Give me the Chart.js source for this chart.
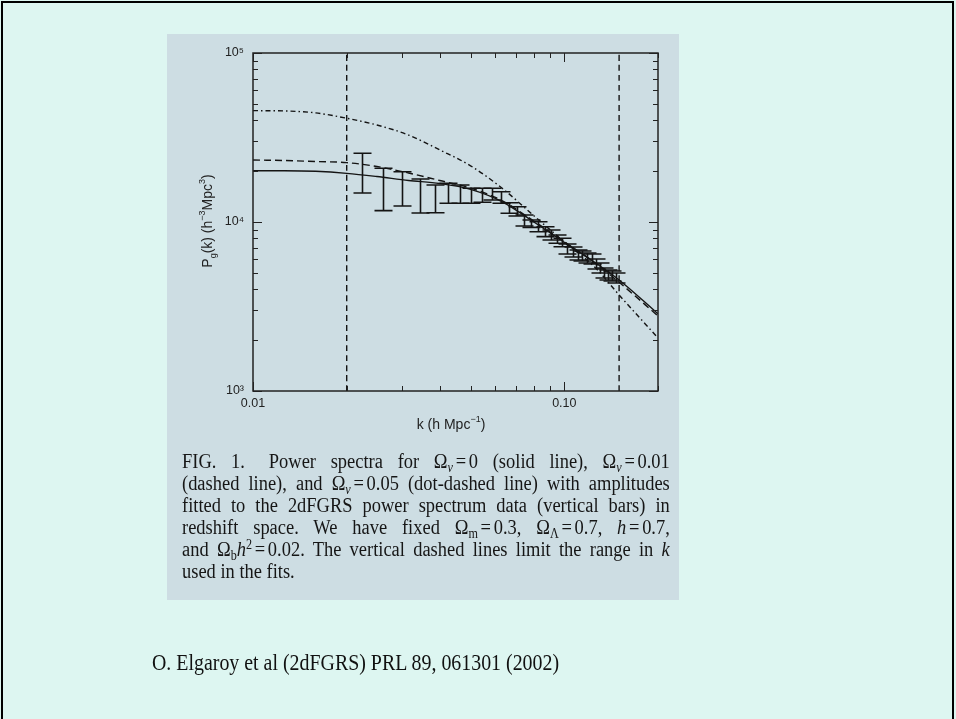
<!DOCTYPE html>
<html><head><meta charset="utf-8">
<script src="https://cdn.jsdelivr.net/npm/chart.js@4.4.0/dist/chart.umd.min.js"></script>
<style>
html,body{margin:0;padding:0;}
body{width:956px;height:719px;background:#ddf6f1;position:relative;overflow:hidden;}
#frame{position:absolute;left:1px;top:1px;width:953px;height:760px;border:2px solid #000;box-sizing:border-box;}
#panel{position:absolute;left:167px;top:34px;width:512px;height:566px;background:#cddde3;}
#chart{position:absolute;left:0;top:0;}
#caption{position:absolute;left:182px;top:450px;width:542px;font-family:"Liberation Serif",serif;font-size:20.5px;line-height:22px;color:#161616;transform-origin:0 0;transform:scaleX(0.9);}
#caption .l{text-align:justify;text-align-last:justify;}
#caption .last{text-align:left;text-align-last:left;}
.s{font-size:0.66em;vertical-align:-0.28em;line-height:0;}
.p{font-size:0.66em;vertical-align:0.5em;line-height:0;}
.e{margin:0 3px;}
#cite{position:absolute;left:152px;top:650px;font-family:"Liberation Serif",serif;font-size:23px;color:#111;transform-origin:0 0;transform:scaleX(0.865);white-space:nowrap;}
</style>
</head><body>
<div id="frame"></div>
<div id="panel"></div>
<canvas id="chart" width="956" height="719"></canvas>
<div id="caption">
<div class="l">FIG. 1.&ensp; Power spectra for &Omega;<span class="s"><i>&nu;</i></span><span class="e">=</span>0 (solid line), &Omega;<span class="s"><i>&nu;</i></span><span class="e">=</span>0.01</div>
<div class="l">(dashed line), and &Omega;<span class="s"><i>&nu;</i></span><span class="e">=</span>0.05 (dot-dashed line) with amplitudes</div>
<div class="l">fitted to the 2dFGRS power spectrum data (vertical bars) in</div>
<div class="l">redshift space. We have fixed &Omega;<span class="s">m</span><span class="e">=</span>0.3, &Omega;<span class="s">&Lambda;</span><span class="e">=</span>0.7, <i>h</i><span class="e">=</span>0.7,</div>
<div class="l">and &Omega;<span class="s">b</span><i>h</i><span class="p">2</span><span class="e">=</span>0.02. The vertical dashed lines limit the range in <i>k</i></div>
<div class="l last">used in the fits.</div>
</div>
<div id="cite">O. Elgaroy et al (2dFGRS) PRL 89, 061301 (2002)</div>
<script>
// ---- data ----
const kModel = [0.01, 0.0126, 0.0159, 0.02, 0.025, 0.0316, 0.0398, 0.05, 0.063, 0.0794, 0.1, 0.126, 0.15, 0.2];
const pNu000 = [20100, 20100, 19950, 19410, 18580, 17600, 16900, 15600, 13210, 10070, 7570, 5720, 4540, 2860];
const pNu001 = [23270, 23120, 22800, 22450, 21300, 19500, 17600, 15900, 13400, 10200, 7650, 5700, 4400, 2780];
const pNu005 = [45600, 45400, 44200, 41100, 37500, 32700, 26700, 21500, 15900, 10990, 7630, 5350, 3700, 2060];

const kData = [0.0224, 0.0262, 0.0302, 0.0344, 0.0384, 0.0424, 0.0462, 0.0502, 0.0544, 0.0584, 0.0624, 0.0664, 0.0704, 0.0744, 0.0784, 0.0824,
               0.0864, 0.0904, 0.0944, 0.0984, 0.1024, 0.1064, 0.1104, 0.1144, 0.1184, 0.1224, 0.1264, 0.1304, 0.1344, 0.1384, 0.1424, 0.1464];
const pHigh = [25500, 20790, 19840, 17970, 16550, 16940, 16550, 15830, 15830, 15830, 15110, 13010, 12310, 11000, 10270, 10040,
               9380, 8970, 8380, 8010, 7410, 7110, 6830, 6740, 6560, 6470, 6040, 5720, 5340, 5200, 5130, 4990];
const pLow  = [14850, 11670, 12430, 11300, 11350, 12900, 12900, 12900, 13080, 13500, 12900, 11260, 10850, 9470, 9300, 8760,
               8190, 7830, 7480, 7140, 6470, 6210, 5960, 5880, 5720, 5640, 5270, 4990, 4660, 4540, 4480, 4360];

const kFitRange = [0.02, 0.15];
const yRange = [1000, 100000];
const xRange = [0.01, 0.2];

const xTickVals = [0.01, 0.02, 0.03, 0.04, 0.05, 0.06, 0.07, 0.08, 0.09, 0.1, 0.2];
const xTickLabels = ['0.01', '', '', '', '', '', '', '', '', '0.10', ''];
const yTickVals = [1000, 2000, 3000, 4000, 5000, 6000, 7000, 8000, 9000, 10000, 20000, 30000, 40000, 50000, 60000, 70000, 80000, 90000, 100000];
const yTickLabels = ['10\u00B3', '', '', '', '', '', '', '', '', '10\u2074', '', '', '', '', '', '', '', '', '10\u2075'];
const xMajor = [0.01, 0.1];
const yMajor = [1000, 10000, 100000];

const INK = '#141414';
const pts = (xs, ys) => xs.map((x, i) => ({x: x, y: ys[i]}));

const frame = {
  id: 'frame',
  afterDatasetsDraw(chart) {
    const {ctx, scales: {x, y}} = chart;
    ctx.save();
    ctx.strokeStyle = INK; ctx.lineWidth = 1.6;
    for (let i = 0; i < kData.length; i++) {
      const px = Math.round(x.getPixelForValue(kData[i])) + 0.5;
      const y1 = y.getPixelForValue(pLow[i]), y2 = y.getPixelForValue(pHigh[i]);
      ctx.beginPath();
      ctx.moveTo(px, y1); ctx.lineTo(px, y2);
      ctx.moveTo(px - 9, y1); ctx.lineTo(px + 9, y1);
      ctx.moveTo(px - 9, y2); ctx.lineTo(px + 9, y2);
      ctx.stroke();
    }
    ctx.restore();
  },
  afterDraw(chart) {
    const {ctx, chartArea: a, scales: {x, y}} = chart;
    ctx.save();
    ctx.strokeStyle = '#222'; ctx.lineWidth = 1.5;
    ctx.strokeRect(a.left, a.top, a.right - a.left, a.bottom - a.top);
    ctx.lineWidth = 1;
    ctx.beginPath();
    xTickVals.forEach(v => {
      const px = Math.round(x.getPixelForValue(v)) + 0.5;
      const L = xMajor.includes(v) ? 9 : 5;
      ctx.moveTo(px, a.bottom); ctx.lineTo(px, a.bottom - L);
      ctx.moveTo(px, a.top); ctx.lineTo(px, a.top + L);
    });
    yTickVals.forEach(v => {
      const py = Math.round(y.getPixelForValue(v)) + 0.5;
      const L = yMajor.includes(v) ? 9 : 5;
      ctx.moveTo(a.left, py); ctx.lineTo(a.left + L, py);
      ctx.moveTo(a.right, py); ctx.lineTo(a.right - L, py);
    });
    ctx.stroke();

    // axis titles with sub/superscripts
    const big = '14px "Liberation Sans", Arial, sans-serif';
    const sml = '9px "Liberation Sans", Arial, sans-serif';
    function drawParts(parts, cx, cy, rot) {
      ctx.save();
      ctx.translate(cx, cy);
      if (rot) ctx.rotate(-Math.PI / 2);
      ctx.fillStyle = '#222';
      ctx.textBaseline = 'alphabetic';
      let w = 0;
      parts.forEach(p => { ctx.font = p[1] ? sml : big; w += ctx.measureText(p[0]).width; });
      let cur = -w / 2;
      parts.forEach(p => {
        ctx.font = p[1] ? sml : big;
        const dy = p[1] === 'sub' ? 3.5 : (p[1] === 'sup' ? -7 : 0);
        ctx.fillText(p[0], cur, 5 + dy);
        cur += ctx.measureText(p[0]).width;
      });
      ctx.restore();
    }
    drawParts([['P'], ['g', 'sub'], ['(k) (h'], ['\u22123', 'sup'], ['Mpc'], ['3', 'sup'], [')']], 207, 221, true);
    drawParts([['k (h Mpc'], ['\u22121', 'sup'], [')']], 451, 424, false);
    ctx.restore();
  }
};

const lineDs = (label, data, dash) => ({
  label, data, borderColor: INK, borderWidth: 1.4, borderDash: dash, pointRadius: 0,
  fill: false, cubicInterpolationMode: 'monotone', showLine: true
});

new Chart(document.getElementById('chart'), {
  type: 'scatter',
  data: {
    datasets: [
      lineDs('\u03A9\u03BD = 0', pts(kModel, pNu000), []),
      lineDs('\u03A9\u03BD = 0.01', pts(kModel, pNu001), [7, 4]),
      lineDs('\u03A9\u03BD = 0.05', pts(kModel, pNu005), [5, 3, 1.5, 3]),
      lineDs('k min', pts([kFitRange[0], kFitRange[0]], yRange), [6, 4]),
      lineDs('k max', pts([kFitRange[1], kFitRange[1]], yRange), [6, 4]),
      {label: '2dFGRS', data: pts(kData, kData.map((k, i) => Math.sqrt(pLow[i] * pHigh[i]))), pointRadius: 0, showLine: false}
    ]
  },
  options: {
    responsive: false, animation: false, devicePixelRatio: 1,
    layout: {padding: {left: 203, top: 53, right: 298, bottom: 298}},
    plugins: {legend: {display: false}, tooltip: {enabled: false}},
    scales: {
      x: {
        type: 'logarithmic', min: xRange[0], max: xRange[1],
        afterBuildTicks: s => { s.ticks = xTickVals.map(v => ({value: v})); },
        afterFit: s => { s.height = 30; },
        grid: {display: false, drawTicks: false}, border: {display: false},
        ticks: {autoSkip: false, maxRotation: 0, padding: 5, color: '#222',
                font: {family: '"Liberation Sans", Arial, sans-serif', size: 12.5},
                callback: v => xTickLabels[xTickVals.indexOf(v)] || ''}
      },
      y: {
        type: 'logarithmic', min: yRange[0], max: yRange[1],
        afterBuildTicks: s => { s.ticks = yTickVals.map(v => ({value: v})); },
        afterFit: s => { s.width = 50; },
        grid: {display: false, drawTicks: false}, border: {display: false},
        ticks: {autoSkip: false, padding: 9, color: '#222',
                font: {family: '"Liberation Sans", Arial, sans-serif', size: 12.5},
                callback: v => yTickLabels[yTickVals.indexOf(v)] || ''}
      }
    }
  },
  plugins: [frame]
});
</script>
</body></html>
